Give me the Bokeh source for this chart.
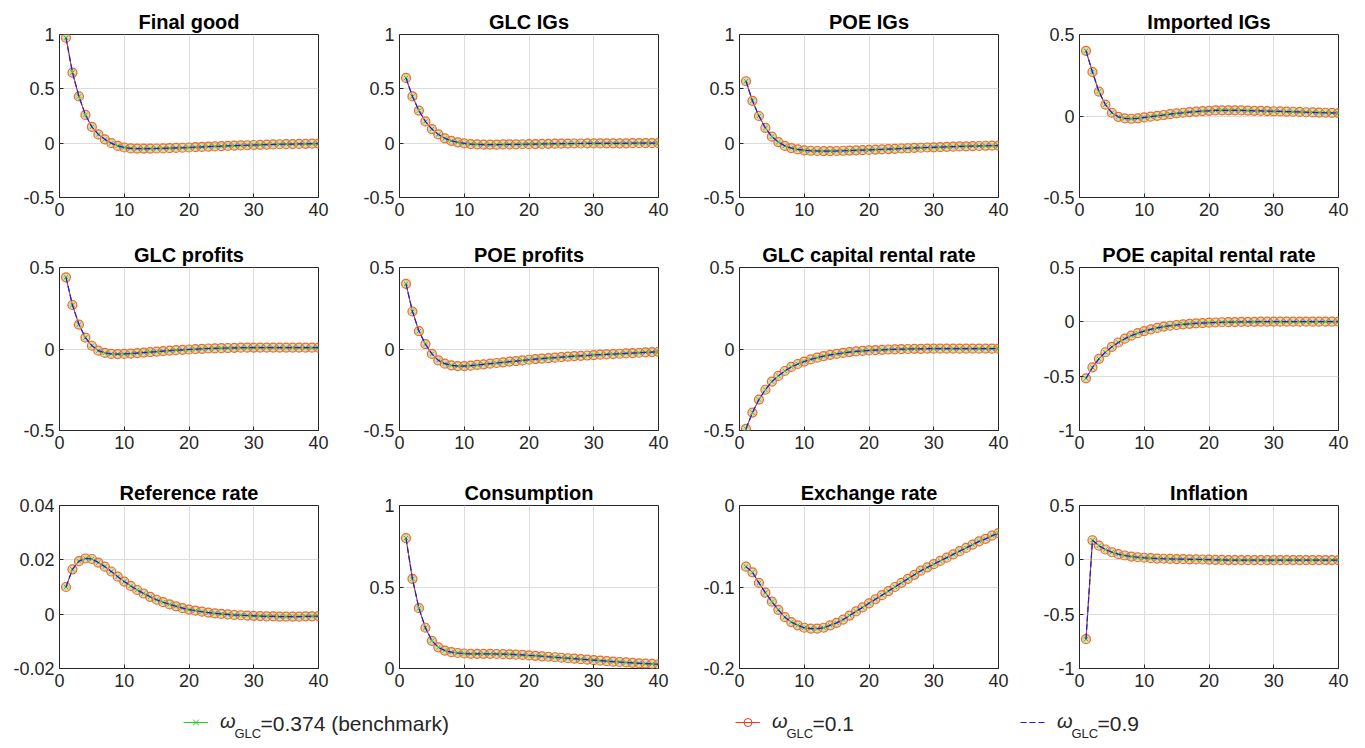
from bokeh.plotting import figure
from bokeh.layouts import column, row
from bokeh.models import Range1d, FixedTicker, CustomJSTickFormatter, Legend, LegendItem, Label
from bokeh.embed import file_html
from bokeh.resources import INLINE

periods = list(range(1, 41))

final_good = [0.97, 0.65, 0.43, 0.26, 0.15, 0.08, 0.035, 0.0, -0.025, -0.04,
              -0.048, -0.05, -0.05, -0.05, -0.049, -0.048, -0.046, -0.044, -0.042, -0.04,
              -0.037, -0.035, -0.032, -0.03, -0.028, -0.025, -0.023, -0.021, -0.019, -0.017,
              -0.015, -0.013, -0.012, -0.01, -0.009, -0.008, -0.007, -0.006, -0.005, -0.004]
glc_igs = [0.6, 0.43, 0.3, 0.2, 0.13, 0.08, 0.045, 0.022, 0.008, -0.002,
           -0.008, -0.011, -0.013, -0.013, -0.013, -0.012, -0.012, -0.011, -0.01, -0.009,
           -0.008, -0.007, -0.006, -0.005, -0.005, -0.004, -0.003, -0.003, -0.002, -0.002,
           -0.002, -0.001, -0.001, -0.001, -0.001, 0.0, 0.0, 0.0, 0.0, 0.0]
poe_igs = [0.57, 0.39, 0.25, 0.14, 0.06, 0.01, -0.025, -0.045, -0.058, -0.066,
           -0.07, -0.072, -0.073, -0.073, -0.072, -0.07, -0.068, -0.066, -0.064, -0.062,
           -0.059, -0.057, -0.054, -0.052, -0.049, -0.047, -0.044, -0.042, -0.04, -0.038,
           -0.036, -0.034, -0.032, -0.03, -0.029, -0.027, -0.026, -0.024, -0.023, -0.022]
imported_igs = [0.4, 0.27, 0.15, 0.07, 0.02, -0.005, -0.015, -0.017, -0.014, -0.009,
                -0.004, 0.001, 0.006, 0.011, 0.016, 0.02, 0.024, 0.027, 0.03, 0.032,
                0.034, 0.035, 0.035, 0.035, 0.034, 0.033, 0.032, 0.031, 0.03, 0.029,
                0.028, 0.027, 0.026, 0.025, 0.023, 0.022, 0.021, 0.02, 0.019, 0.018]
glc_profits = [0.44, 0.27, 0.15, 0.07, 0.02, -0.01, -0.024, -0.03, -0.031, -0.03,
               -0.028, -0.025, -0.022, -0.019, -0.016, -0.013, -0.01, -0.007, -0.005, -0.003,
               -0.001, 0.001, 0.003, 0.004, 0.005, 0.006, 0.007, 0.008, 0.008, 0.009,
               0.009, 0.009, 0.009, 0.009, 0.009, 0.009, 0.009, 0.008, 0.008, 0.008]
poe_profits = [0.4, 0.23, 0.11, 0.03, -0.03, -0.07, -0.09, -0.1, -0.105, -0.105,
               -0.102, -0.098, -0.094, -0.09, -0.086, -0.082, -0.078, -0.074, -0.07, -0.066,
               -0.062, -0.059, -0.056, -0.053, -0.05, -0.047, -0.044, -0.042, -0.04, -0.037,
               -0.035, -0.033, -0.031, -0.029, -0.027, -0.025, -0.023, -0.021, -0.019, -0.017]
glc_rental = [-0.49, -0.39, -0.31, -0.25, -0.2, -0.165, -0.135, -0.11, -0.092, -0.077,
              -0.064, -0.053, -0.044, -0.036, -0.03, -0.024, -0.019, -0.015, -0.012, -0.009,
              -0.007, -0.005, -0.003, -0.002, -0.001, 0.0, 0.001, 0.001, 0.002, 0.002,
              0.002, 0.002, 0.002, 0.002, 0.002, 0.002, 0.002, 0.002, 0.002, 0.002]
poe_rental = [-0.52, -0.42, -0.34, -0.28, -0.23, -0.19, -0.155, -0.127, -0.104, -0.085,
              -0.069, -0.056, -0.045, -0.036, -0.029, -0.023, -0.018, -0.014, -0.011, -0.008,
              -0.006, -0.004, -0.003, -0.002, -0.001, 0.0, 0.0, 0.001, 0.001, 0.001,
              0.001, 0.001, 0.001, 0.001, 0.001, 0.001, 0.001, 0.001, 0.001, 0.001]
reference_rate = [0.010, 0.0165, 0.0195, 0.0205, 0.0203, 0.019, 0.0175, 0.0157, 0.0138, 0.012,
                  0.0104, 0.0089, 0.0076, 0.0064, 0.0053, 0.0044, 0.0036, 0.0029, 0.0022, 0.0017,
                  0.0013, 0.0009, 0.0006, 0.0003, 0.0001, -0.0001, -0.0003, -0.0004, -0.0005, -0.0006,
                  -0.0007, -0.0008, -0.0008, -0.0009, -0.0009, -0.0009, -0.0009, -0.0008, -0.0008, -0.0007]
consumption = [0.8, 0.55, 0.37, 0.25, 0.17, 0.13, 0.11, 0.1, 0.095, 0.092,
               0.09, 0.09, 0.09, 0.09, 0.089, 0.088, 0.087, 0.085, 0.083, 0.08,
               0.078, 0.075, 0.072, 0.069, 0.066, 0.063, 0.06, 0.057, 0.054, 0.051,
               0.048, 0.045, 0.042, 0.04, 0.037, 0.035, 0.032, 0.03, 0.028, 0.026]
exchange_rate = [-0.075, -0.082, -0.095, -0.107, -0.118, -0.128, -0.137, -0.143, -0.147, -0.15,
                 -0.151, -0.151, -0.15, -0.147, -0.144, -0.14, -0.135, -0.13, -0.125, -0.12,
                 -0.115, -0.11, -0.105, -0.1, -0.095, -0.09, -0.085, -0.08, -0.076, -0.072,
                 -0.068, -0.064, -0.06, -0.056, -0.052, -0.048, -0.044, -0.041, -0.037, -0.034]
inflation = [-0.73, 0.18, 0.13, 0.095, 0.07, 0.052, 0.04, 0.03, 0.024, 0.019,
             0.015, 0.012, 0.01, 0.008, 0.007, 0.006, 0.005, 0.004, 0.003, 0.002,
             0.0, -0.001, -0.002, -0.002, -0.003, -0.003, -0.003, -0.003, -0.003, -0.003,
             -0.003, -0.003, -0.002, -0.002, -0.002, -0.002, -0.002, -0.002, -0.002, -0.002]

titles = ["Final good", "GLC IGs", "POE IGs", "Imported IGs",
          "GLC profits", "POE profits", "GLC capital rental rate", "POE capital rental rate",
          "Reference rate", "Consumption", "Exchange rate", "Inflation"]
panel_data = [final_good, glc_igs, poe_igs, imported_igs,
              glc_profits, poe_profits, glc_rental, poe_rental,
              reference_rate, consumption, exchange_rate, inflation]
y_limits = [(-0.5, 1), (-0.5, 1), (-0.5, 1), (-0.5, 0.5),
            (-0.5, 0.5), (-0.5, 0.5), (-0.5, 0.5), (-1, 0.5),
            (-0.02, 0.04), (0, 1), (-0.2, 0), (-1, 0.5)]
y_ticks = [[-0.5, 0, 0.5, 1], [-0.5, 0, 0.5, 1], [-0.5, 0, 0.5, 1], [-0.5, 0, 0.5],
           [-0.5, 0, 0.5], [-0.5, 0, 0.5], [-0.5, 0, 0.5], [-1, -0.5, 0, 0.5],
           [-0.02, 0, 0.02, 0.04], [0, 0.5, 1], [-0.2, -0.1, 0], [-1, -0.5, 0, 0.5]]
x_ticks = [0, 10, 20, 30, 40]
legend_labels = ["=0.374 (benchmark)", "=0.1", "=0.9"]

FONT = "Liberation Sans"
GREEN = "#22cc22"
RED = "#ee3322"
BLUE = "#1a1aff"
fmt = CustomJSTickFormatter(code="return String(Math.round(tick*1000)/1000);")

row_bottom = [36, 41, 32]

figs = []
for i in range(12):
    col = i % 4
    r = i // 4
    p = figure(frame_width=259, frame_height=163,
               min_border_left=59, min_border_right=(20 if col == 3 else 22),
               min_border_top=34, min_border_bottom=row_bottom[r],
               x_range=Range1d(0, 40), y_range=Range1d(*y_limits[i]),
               toolbar_location=None, output_backend="svg", title=titles[i])
    p.title.align = "center"
    p.title.text_font = FONT
    p.title.text_font_size = "20px"
    p.title.text_font_style = "bold"
    p.title.text_color = "#000000"
    p.title.standoff = 3
    p.outline_line_color = "#262626"
    p.outline_line_width = 1
    p.background_fill_color = "white"
    p.border_fill_color = "white"
    p.xaxis.ticker = FixedTicker(ticks=x_ticks)
    p.yaxis.ticker = FixedTicker(ticks=y_ticks[i])
    p.xaxis.formatter = fmt
    p.yaxis.formatter = fmt
    for ax in (p.xaxis[0], p.yaxis[0]):
        ax.axis_line_color = None
        ax.major_tick_in = 4
        ax.major_tick_out = 0
        ax.major_tick_line_color = "#262626"
        ax.minor_tick_line_color = None
        ax.major_label_text_font = FONT
        ax.major_label_text_font_size = "18px"
        ax.major_label_text_color = "#262626"
        ax.major_label_standoff = 5
    p.grid.grid_line_color = "#dcdcdc"
    p.grid.grid_line_width = 1
    y = panel_data[i]
    p.line(periods, y, line_color=GREEN, line_width=1)
    p.line(periods, y, line_color=RED, line_width=1)
    p.scatter(periods, y, marker="circle", size=9, line_color="#ec6a30", line_width=1.2,
              fill_color="#c8b46a", fill_alpha=0.55)
    p.scatter(periods, y, marker="x", size=6, line_color=GREEN, line_width=1)
    p.line(periods, y, line_color=BLUE, line_width=1.2, line_dash="6 3")
    figs.append(p)

lf = figure(width=1358, height=45, x_range=Range1d(0, 40), y_range=Range1d(-1, 1),
            toolbar_location=None, output_backend="svg", min_border=0)
lf.axis.visible = False
lf.grid.visible = False
lf.outline_line_color = None
sx = periods[:1]
sy = final_good[:1]
g_line = lf.line(sx, sy, line_color=GREEN, line_width=1, visible=False)
g_mark = lf.scatter(sx, sy, marker="x", size=6, line_color=GREEN, visible=False)
r_line = lf.line(sx, sy, line_color=RED, line_width=1, visible=False)
r_mark = lf.scatter(sx, sy, marker="circle", size=6, line_color=RED, fill_color=None, visible=False)
b_line = lf.line(sx, sy, line_color=BLUE, line_width=1.2, line_dash="6 3", visible=False)

legend_x = [183, 735, 1020]
renderer_sets = [[g_line, g_mark], [r_line, r_mark], [b_line]]
for lx, rs, lab in zip(legend_x, renderer_sets, legend_labels):
    leg = Legend(items=[LegendItem(label="ω", renderers=rs)], location=(lx, 12),
                 orientation="horizontal", padding=0, margin=0, glyph_width=25, glyph_height=20,
                 label_standoff=12, label_height=20, border_line_alpha=0, background_fill_alpha=0,
                 label_text_font=FONT, label_text_font_size="20px", label_text_font_style="italic",
                 label_text_color="#262626", click_policy="none")
    lf.add_layout(leg)
    lf.add_layout(Label(x=lx + 51, y=12, x_units="screen", y_units="screen", text="GLC",
                        text_font=FONT, text_font_size="13px", text_color="#262626",
                        text_baseline="middle"))
    lf.add_layout(Label(x=lx + 77, y=22, x_units="screen", y_units="screen", text=lab,
                        text_font=FONT, text_font_size="21px", text_color="#262626",
                        text_baseline="middle"))

layout = column(row(*figs[0:4]), row(*figs[4:8]), row(*figs[8:12]), lf)
open("out.html", "w").write(file_html(layout, INLINE))
